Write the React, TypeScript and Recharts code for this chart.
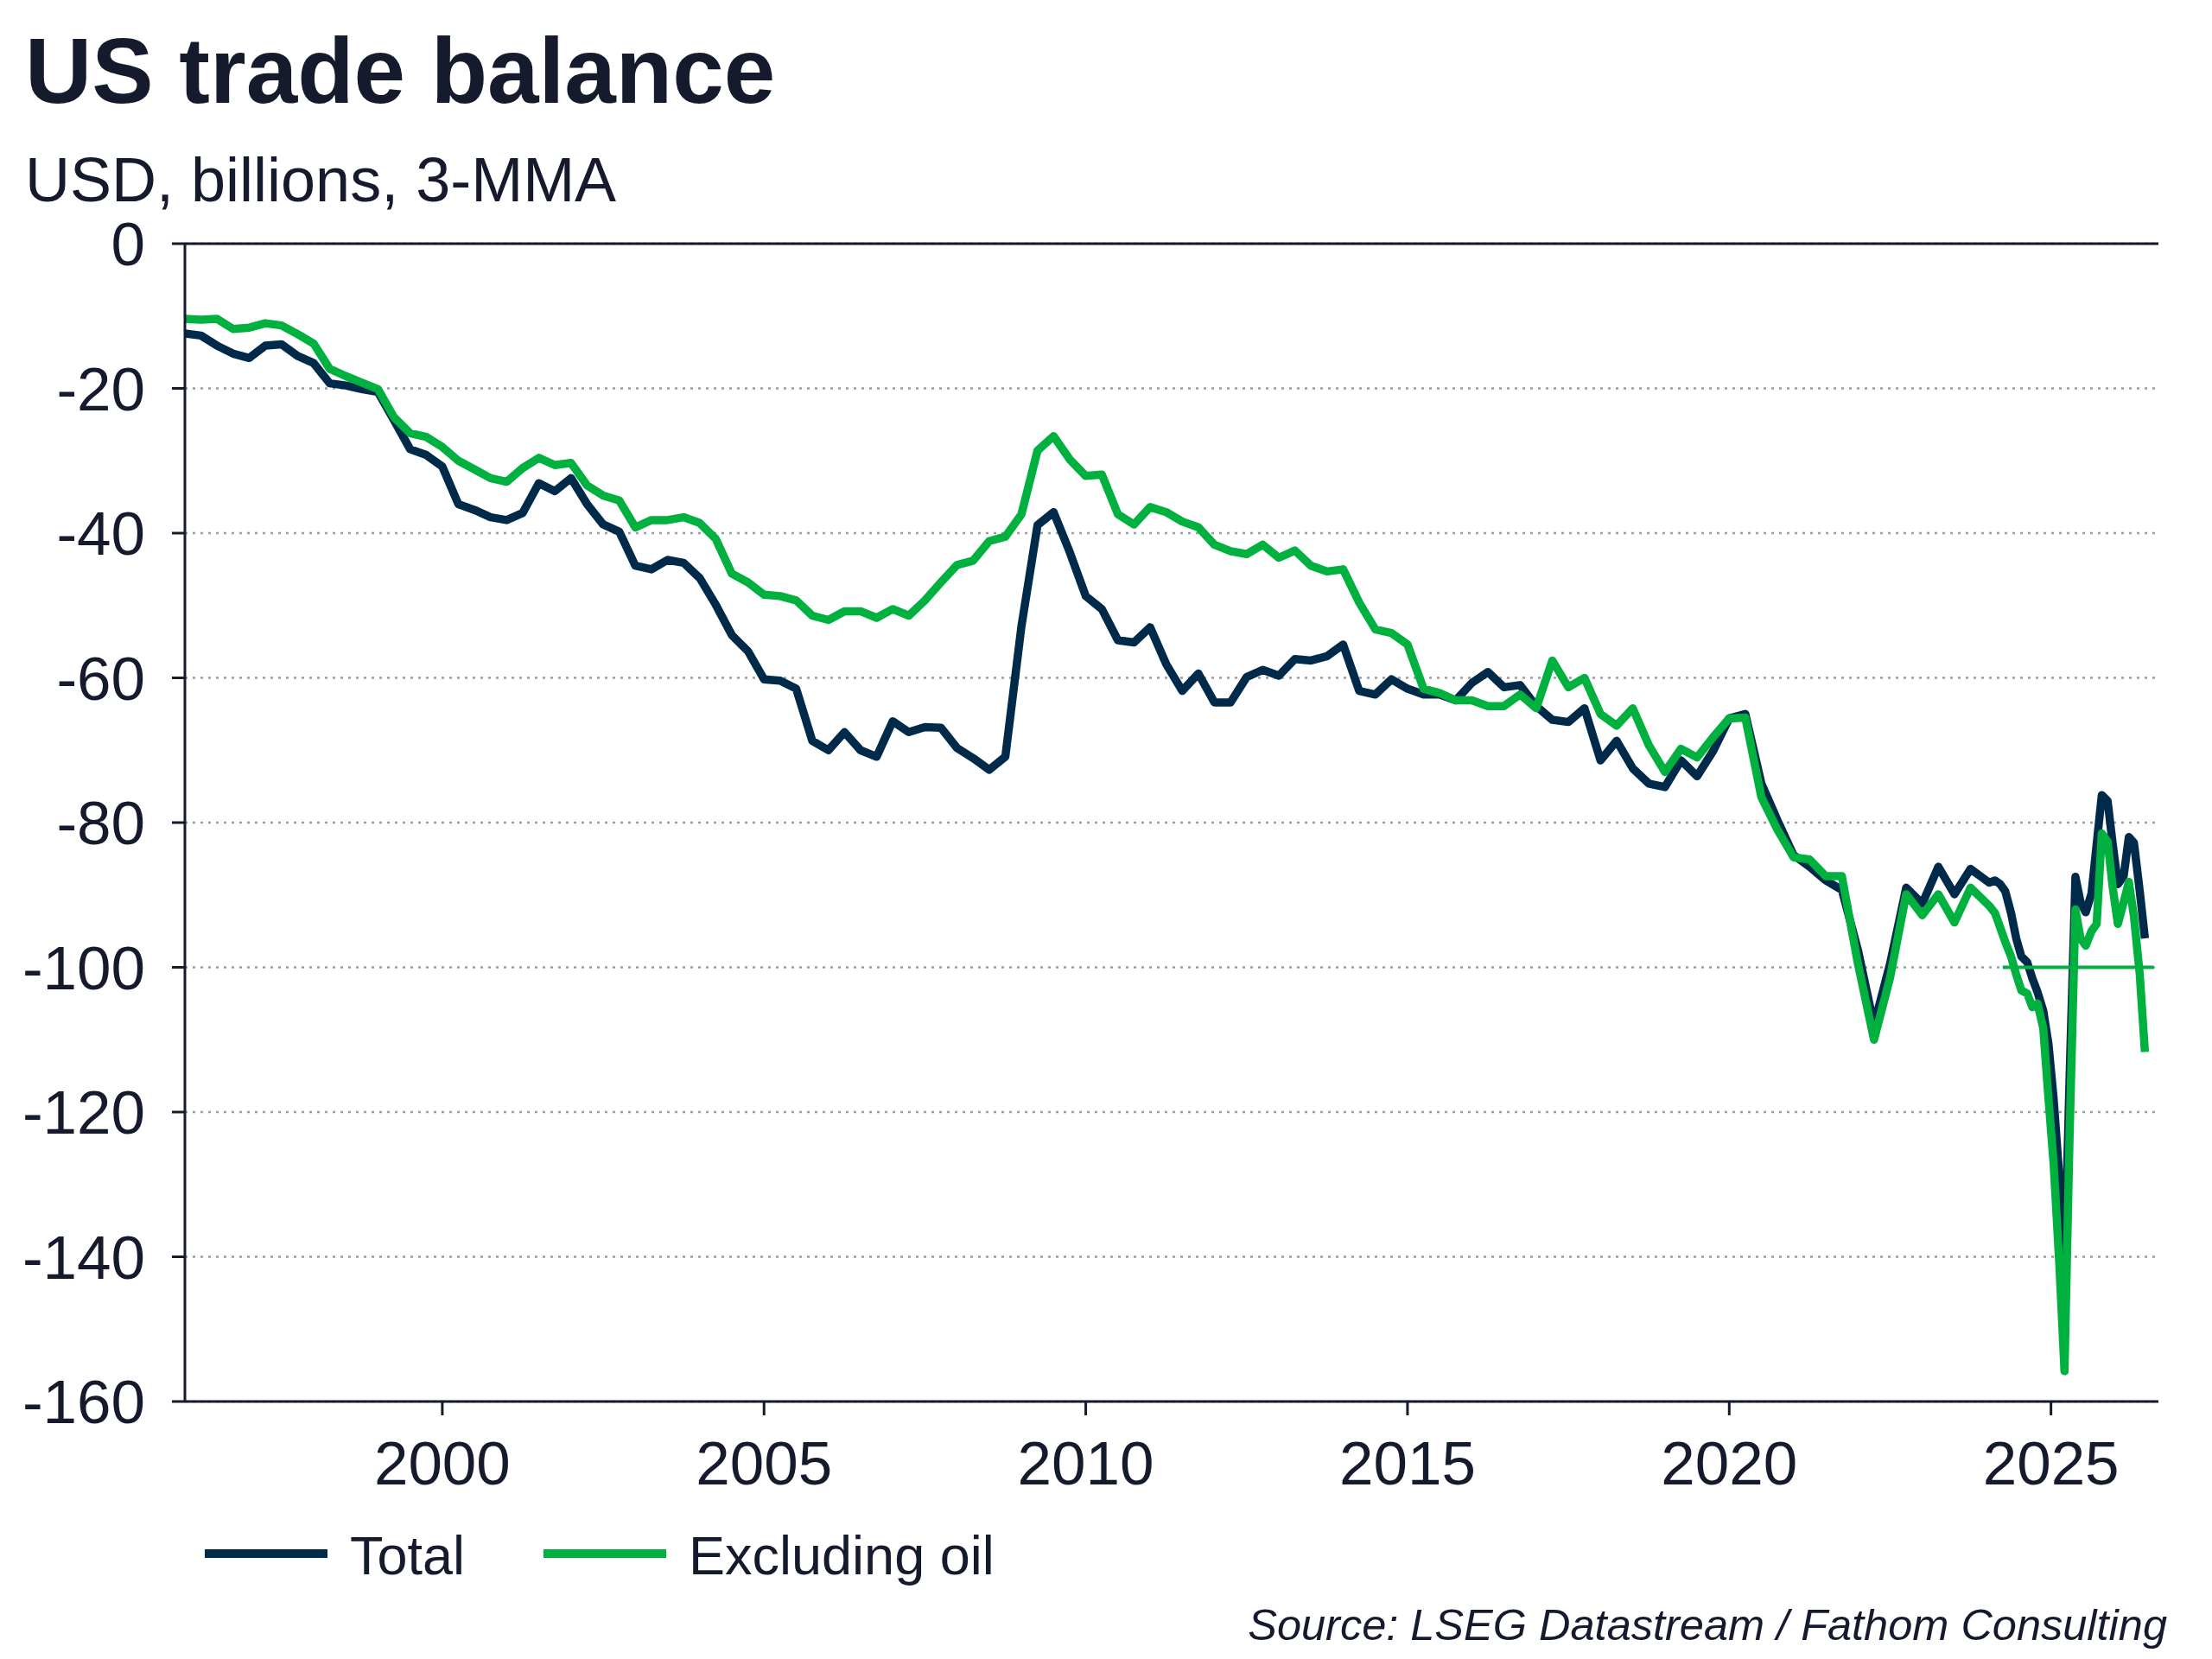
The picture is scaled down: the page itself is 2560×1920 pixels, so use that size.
import { LineChart, Line, XAxis, YAxis, CartesianGrid, ReferenceLine } from "recharts";

// decimal years: quarterly to end-2023, then monthly (mid-month)
const years = [
  1996.0, 1996.25, 1996.5, 1996.75, 1997.0, 1997.25, 1997.5, 1997.75,
  1998.0, 1998.25, 1998.5, 1998.75, 1999.0, 1999.25, 1999.5, 1999.75,
  2000.0, 2000.25, 2000.5, 2000.75, 2001.0, 2001.25, 2001.5, 2001.75,
  2002.0, 2002.25, 2002.5, 2002.75, 2003.0, 2003.25, 2003.5, 2003.75,
  2004.0, 2004.25, 2004.5, 2004.75, 2005.0, 2005.25, 2005.5, 2005.75,
  2006.0, 2006.25, 2006.5, 2006.75, 2007.0, 2007.25, 2007.5, 2007.75,
  2008.0, 2008.25, 2008.5, 2008.75, 2009.0, 2009.25, 2009.5, 2009.75,
  2010.0, 2010.25, 2010.5, 2010.75, 2011.0, 2011.25, 2011.5, 2011.75,
  2012.0, 2012.25, 2012.5, 2012.75, 2013.0, 2013.25, 2013.5, 2013.75,
  2014.0, 2014.25, 2014.5, 2014.75, 2015.0, 2015.25, 2015.5, 2015.75,
  2016.0, 2016.25, 2016.5, 2016.75, 2017.0, 2017.25, 2017.5, 2017.75,
  2018.0, 2018.25, 2018.5, 2018.75, 2019.0, 2019.25, 2019.5, 2019.75,
  2020.0, 2020.25, 2020.5, 2020.75, 2021.0, 2021.25, 2021.5, 2021.75,
  2022.0, 2022.25, 2022.5, 2022.75, 2023.0, 2023.25, 2023.5, 2023.75,
  2024.04, 2024.13, 2024.21, 2024.29, 2024.38, 2024.46,
  2024.54, 2024.63, 2024.71, 2024.79, 2024.88, 2024.96,
  2025.04, 2025.13, 2025.21, 2025.29, 2025.38, 2025.46,
  2025.54, 2025.63, 2025.71, 2025.79, 2025.88, 2025.96,
  2026.04, 2026.13, 2026.21, 2026.29, 2026.38, 2026.46,
];

const total = [
  -12.4, -12.7, -14.1, -15.2, -15.8, -14.1, -13.9, -15.5,
  -16.5, -19.3, -19.6, -20.1, -20.5, -24.4, -28.4, -29.2,
  -30.8, -36.0, -36.8, -37.8, -38.2, -37.2, -33.1, -34.2,
  -32.4, -36.0, -38.8, -39.8, -44.5, -45.0, -43.7, -44.1,
  -46.2, -49.9, -54.1, -56.3, -60.2, -60.4, -61.5, -68.7,
  -70.0, -67.5, -70.0, -70.9, -66.0, -67.5, -66.8, -66.9,
  -69.7, -71.1, -72.7, -70.9, -52.9, -38.9, -37.1, -42.6,
  -48.7, -50.5, -54.8, -55.1, -53.0, -58.1, -61.8, -59.4,
  -63.4, -63.4, -59.9, -58.9, -59.7, -57.4, -57.6, -57.0,
  -55.4, -61.8, -62.3, -60.2, -61.5, -62.3, -62.3, -63.1,
  -60.7, -59.2, -61.3, -61.0, -63.9, -65.8, -66.1, -64.2,
  -71.4, -68.7, -72.5, -74.6, -75.1, -71.4, -73.6, -70.1,
  -65.6, -65.0, -74.6, -79.7, -84.5, -86.1, -88.0, -89.3,
  -97.6, -108.0, -99.5, -89.0, -91.2, -86.1, -89.9, -86.4,
  -88.3, -88.0, -88.5, -89.5, -92.5, -96.0,
  -98.5, -99.3, -101.5, -103.4, -106.0, -110.5,
  -118.0, -129.0, -142.0, -115.0, -87.5, -91.0,
  -92.4, -89.8, -83.0, -76.2, -77.0, -83.0,
  -88.5, -87.4, -82.0, -82.8, -89.5, -96.0,
];

const excludingOil = [
  -10.4, -10.5, -10.4, -11.8, -11.6, -11.0, -11.3, -12.5,
  -13.8, -17.3, -18.3, -19.2, -20.1, -24.0, -26.2, -26.7,
  -28.1, -30.0, -31.2, -32.4, -32.9, -31.0, -29.6, -30.6,
  -30.3, -33.4, -34.8, -35.5, -39.2, -38.2, -38.2, -37.8,
  -38.6, -40.8, -45.6, -46.8, -48.5, -48.7, -49.3, -51.4,
  -52.0, -50.8, -50.8, -51.7, -50.5, -51.4, -49.3, -46.8,
  -44.4, -43.8, -41.1, -40.5, -37.4, -28.6, -26.6, -29.8,
  -32.1, -31.9, -37.4, -38.8, -36.4, -37.1, -38.4, -39.2,
  -41.6, -42.5, -42.9, -41.6, -43.4, -42.4, -44.5, -45.3,
  -45.0, -49.6, -53.3, -53.8, -55.4, -61.5, -62.1, -63.1,
  -63.1, -63.9, -63.9, -62.3, -64.2, -57.6, -61.3, -60.0,
  -65.0, -66.6, -64.2, -69.3, -73.0, -69.8, -71.0, -68.2,
  -65.6, -65.5, -76.5, -81.0, -84.8, -85.1, -87.4, -87.4,
  -99.5, -110.0, -101.4, -89.9, -92.8, -89.9, -93.8, -89.0,
  -91.5, -92.5, -94.5, -96.5, -98.5, -101.0,
  -103.2, -103.6, -105.5, -105.0, -108.4, -118.0,
  -127.0, -141.0, -155.8, -123.0, -92.0, -96.0,
  -97.0, -95.0, -94.0, -81.5, -82.6, -89.0,
  -94.0, -91.0, -88.2, -93.0, -101.0, -111.7,
];

const xTicks = [2000, 2005, 2010, 2015, 2020, 2025];
const yTicks = [0, -20, -40, -60, -80, -100, -120, -140, -160];

const data = years.map((year, i) => ({
  year,
  total: total[i],
  excludingOil: excludingOil[i],
}));

const NAVY = "#002a4a";
const GREEN = "#00b140";
const INK = "#151a2c";
const FONT = "'Liberation Sans', Arial, Helvetica, sans-serif";

export default function App() {
  return (
    <div
      style={{
        position: "absolute",
        left: 0,
        top: 0,
        width: 2560,
        height: 1920,
        background: "#ffffff",
        fontFamily: FONT,
      }}
    >
      <LineChart
        width={2560}
        height={1920}
        data={data}
        margin={{ top: 282, right: 62, bottom: 178, left: 14 }}
      >
        <CartesianGrid
          vertical={false}
          stroke="#9c9c9c"
          strokeWidth={2.5}
          strokeDasharray="3 6"
        />
        <XAxis
          dataKey="year"
          type="number"
          domain={[1996, 2026.67]}
          ticks={xTicks}
          allowDataOverflow
          height={120}
          tickSize={16}
          tickMargin={30}
          axisLine={{ stroke: INK, strokeWidth: 3 }}
          tickLine={{ stroke: INK, strokeWidth: 3 }}
          tick={{ fill: INK, fontSize: 71, fontFamily: FONT }}
        />
        <YAxis
          type="number"
          domain={[-160, 0]}
          ticks={yTicks}
          width={200}
          tickSize={15}
          tickMargin={31}
          axisLine={{ stroke: INK, strokeWidth: 3 }}
          tickLine={{ stroke: INK, strokeWidth: 3 }}
          tick={{ fill: INK, fontSize: 71, fontFamily: FONT }}
        />
        <ReferenceLine y={0} stroke={INK} strokeWidth={3} />
        <Line
          dataKey="total"
          stroke={NAVY}
          strokeWidth={9.5}
          dot={false}
          strokeLinejoin="round"
          isAnimationActive={false}
        />
        <Line
          dataKey="excludingOil"
          stroke={GREEN}
          strokeWidth={9.5}
          dot={false}
          strokeLinejoin="round"
          isAnimationActive={false}
        />
        <ReferenceLine
          segment={[
            { x: 2024.25, y: -100 },
            { x: 2026.6, y: -100 },
          ]}
          stroke={GREEN}
          strokeWidth={4}
          ifOverflow="visible"
        />
      </LineChart>

      <svg
        width={2560}
        height={1920}
        style={{ position: "absolute", left: 0, top: 0, pointerEvents: "none" }}
        fontFamily={FONT}
      >
        <text x={29} y={119} fontSize={107} fontWeight={700} fill={INK}>
          US trade balance
        </text>
        <text x={29} y={233} fontSize={72} fill={INK}>
          USD, billions, 3-MMA
        </text>

        <line x1={237} x2={379} y1={1798} y2={1798} stroke={NAVY} strokeWidth={10} />
        <text x={405} y={1822} fontSize={63} fill={INK}>
          Total
        </text>
        <line x1={629} x2={771} y1={1798} y2={1798} stroke={GREEN} strokeWidth={10} />
        <text x={797} y={1822} fontSize={63} fill={INK}>
          Excluding oil
        </text>

        <text x={2508} y={1898} fontSize={50.5} fontStyle="italic" textAnchor="end" fill={INK}>
          Source: LSEG Datastream / Fathom Consulting
        </text>
      </svg>
    </div>
  );
}
